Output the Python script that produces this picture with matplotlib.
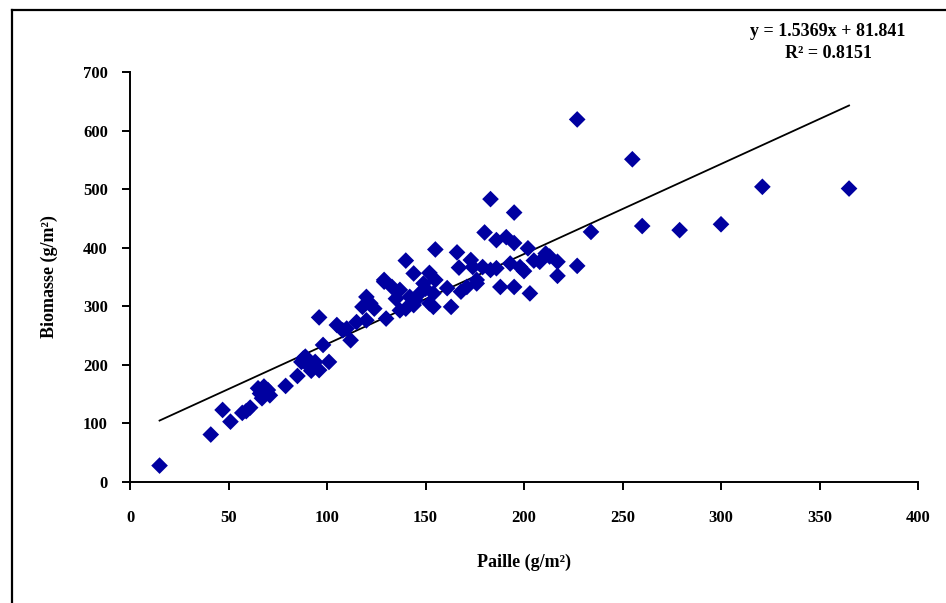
import matplotlib
matplotlib.use("Agg")
import matplotlib.pyplot as plt
from matplotlib.lines import Line2D
import numpy as np

# Data: Paille (g/m2) vs Biomasse (g/m2)
paille = [15, 41, 47, 51, 57, 59, 61, 66, 67, 68, 70, 71, 65, 79, 85, 87, 89, 91, 93, 94,
          96, 96, 98, 101, 88, 92,
          105, 108, 110, 112, 115, 118, 120, 120, 124, 122, 129, 130, 133, 129, 135, 137,
          137, 140, 140, 142, 144, 144, 147, 149, 145, 152, 154, 154, 155, 150, 152,
          155, 161, 163, 166, 167, 168, 171, 173, 174, 176, 176, 179, 180, 183, 183, 186,
          186, 188, 191, 193, 195, 195, 195, 198, 200, 202, 203, 205, 208, 211, 213, 217,
          217, 227, 227,
          234, 255, 260, 279, 300, 321, 365]
biomasse = [28, 81, 123, 103, 118, 121, 127, 151, 143, 163, 157, 148, 160, 164, 181, 205, 214, 197, 197, 205,
            191, 281, 234, 205, 211, 190,
            268, 259, 262, 242, 273, 299, 276, 316, 296, 305, 342, 279, 333, 345, 313, 328,
            293, 378, 296, 316, 302, 356, 322, 339, 310, 357, 322, 299, 345, 330, 305,
            397, 331, 299, 392, 366, 325, 333, 379, 367, 345, 339, 367, 426, 483, 362, 413,
            365, 333, 418, 373, 460, 408, 333, 367, 360, 399, 322, 378, 376, 390, 385, 376,
            352, 369, 619,
            427, 551, 437, 430, 440, 504, 501]

slope = 1.5369
intercept = 81.841
r2 = 0.8151

x_ticks = [0, 50, 100, 150, 200, 250, 300, 350, 400]
y_ticks = [0, 100, 200, 300, 400, 500, 600, 700]

W, H = 946, 603
fig = plt.figure(figsize=(W / 100, H / 100), dpi=100)
ax = fig.add_axes([130 / W, 1 - 482 / H, (918 - 130) / W, (482 - 72) / H])

font = "Liberation Serif"

ax.scatter(paille, biomasse, marker="D", s=72, color="#0000A0", edgecolors="none", zorder=3)

xs = np.array([min(paille), max(paille)])
ax.plot(xs, slope * xs + intercept, color="black", lw=1.3, zorder=2)

ax.set_xlim(0, 400)
ax.set_ylim(0, 700)
ax.set_xticks(x_ticks)
ax.set_yticks(y_ticks)
ax.set_xticklabels([str(t) for t in x_ticks], fontfamily=font, fontsize=12, fontweight="bold")
ax.set_yticklabels([str(t) for t in y_ticks], fontfamily=font, fontsize=12, fontweight="bold")
for s in ["top", "right"]:
    ax.spines[s].set_visible(False)
for s in ["left", "bottom"]:
    ax.spines[s].set_linewidth(1.4)
ax.tick_params(direction="out", length=6, width=1.4, pad=14)
ax.tick_params(axis="y", pad=10)

ax.set_xlabel("Paille (g/m²)", fontfamily=font, fontsize=13, fontweight="bold", labelpad=20)
ax.set_ylabel("Biomasse (g/m²)", fontfamily=font, fontsize=13, fontweight="bold", labelpad=18)

fig.text(828 / W, 1 - 31 / H, f"y = {slope}x + {intercept}", ha="center", va="center",
         fontfamily=font, fontsize=13, fontweight="bold")
fig.text(828 / W, 1 - 54 / H, f"R² = {r2}", ha="center", va="center",
         fontfamily=font, fontsize=13, fontweight="bold")

# outer chart border
x0 = 12 / W
y0 = 1 - 10 / H
fig.add_artist(Line2D([x0, x0], [0, y0], transform=fig.transFigure, color="black", lw=1.6))
fig.add_artist(Line2D([x0, 1], [y0, y0], transform=fig.transFigure, color="black", lw=1.6))

fig.savefig("out.png", dpi=100)
